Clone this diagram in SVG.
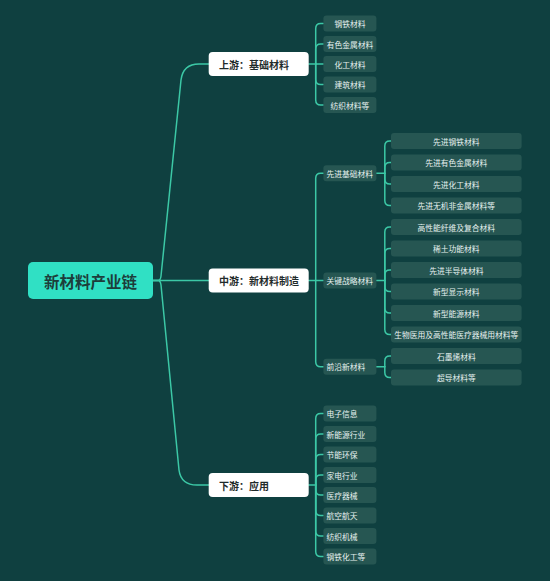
<svg xmlns="http://www.w3.org/2000/svg" width="550" height="581" viewBox="0 0 550 581">
<style>
.bg{fill:#0f4040}
.ln{fill:none;stroke:#3cc8a6;stroke-width:1.5;stroke-linecap:round}
.root rect{fill:#30e0c4}
.root text{font-family:"Noto Sans CJK SC","Noto Sans",sans-serif;font-size:15.5px;font-weight:bold;fill:#1d3d3b;text-anchor:middle;dominant-baseline:central}
.main rect{fill:#ffffff}
.main text{font-family:"Noto Sans CJK SC","Noto Sans",sans-serif;font-size:10px;font-weight:bold;fill:#1f2b2b;dominant-baseline:central}
.leaf rect{fill:#265652}
.leaf text{font-family:"Noto Sans CJK SC","Noto Sans",sans-serif;font-size:7.75px;fill:#e6f2f0;dominant-baseline:central}
.c text{text-anchor:middle}
</style>
<rect class="bg" x="0" y="0" width="550" height="581"/>
<g id="connectors">
  <path class="ln" d="M153,280.5 H209"/>
  <path class="ln" d="M153,280.5 H158 Q160.5,280.5 161,276 L181,80 Q183,64 199,64 H209"/>
  <path class="ln" d="M153,280.5 H158 Q160.5,280.5 161,285 L179,470 Q181,485 197,485 H209"/>
  <!-- upstream -->
  <path class="ln" d="M308.7,64 H315.7"/>
  <path class="ln" d="M315.7,64 V28.5 Q315.7,23.5 320.7,23.5 H323.4"/>
  <path class="ln" d="M315.7,64 V49 Q315.7,44 320.7,44 H323.4"/>
  <path class="ln" d="M315.7,64 H323.4"/>
  <path class="ln" d="M315.7,64 V79.5 Q315.7,84.5 320.7,84.5 H323.4"/>
  <path class="ln" d="M315.7,64 V100 Q315.7,105 320.7,105 H323.4"/>
  <!-- midstream -->
  <path class="ln" d="M308.7,280.5 H315.7"/>
  <path class="ln" d="M315.7,280.5 V178.25 Q315.7,173.25 320.7,173.25 H323.4"/>
  <path class="ln" d="M315.7,280.5 H323.4"/>
  <path class="ln" d="M315.7,280.5 V361.75 Q315.7,366.75 320.7,366.75 H323.4"/>
  <path class="ln" d="M376.4,173.25 H384.8"/>
  <path class="ln" d="M384.8,173.25 V146 Q384.8,141 389.8,141 H391"/>
  <path class="ln" d="M384.8,173.25 V167.5 Q384.8,162.5 389.8,162.5 H391"/>
  <path class="ln" d="M384.8,173.25 V179 Q384.8,184 389.8,184 H391"/>
  <path class="ln" d="M384.8,173.25 V200.5 Q384.8,205.5 389.8,205.5 H391"/>
  <path class="ln" d="M376.4,280.5 H384.8"/>
  <path class="ln" d="M384.8,280.5 V232 Q384.8,227 389.8,227 H391"/>
  <path class="ln" d="M384.8,280.5 V253.5 Q384.8,248.5 389.8,248.5 H391"/>
  <path class="ln" d="M384.8,280.5 V275 Q384.8,270 389.8,270 H391"/>
  <path class="ln" d="M384.8,280.5 V286.5 Q384.8,291.5 389.8,291.5 H391"/>
  <path class="ln" d="M384.8,280.5 V308 Q384.8,313 389.8,313 H391"/>
  <path class="ln" d="M384.8,280.5 V329.5 Q384.8,334.5 389.8,334.5 H391"/>
  <path class="ln" d="M376.4,366.75 H384.8"/>
  <path class="ln" d="M384.8,366.75 V361 Q384.8,356 389.8,356 H391"/>
  <path class="ln" d="M384.8,366.75 V372.5 Q384.8,377.5 389.8,377.5 H391"/>
  <!-- downstream -->
  <path class="ln" d="M308.7,485 H315.7"/>
  <path class="ln" d="M315.7,485 V418.5 Q315.7,413.5 320.7,413.5 H323.4"/>
  <path class="ln" d="M315.7,485 V439 Q315.7,434 320.7,434 H323.4"/>
  <path class="ln" d="M315.7,485 V459.5 Q315.7,454.5 320.7,454.5 H323.4"/>
  <path class="ln" d="M315.7,485 V480 Q315.7,475 320.7,475 H323.4"/>
  <path class="ln" d="M315.7,485 V490 Q315.7,495 320.7,495 H323.4"/>
  <path class="ln" d="M315.7,485 V510.5 Q315.7,515.5 320.7,515.5 H323.4"/>
  <path class="ln" d="M315.7,485 V531 Q315.7,536 320.7,536 H323.4"/>
  <path class="ln" d="M315.7,485 V551.5 Q315.7,556.5 320.7,556.5 H323.4"/>
</g>
<g id="root" class="root"><rect x="28" y="262" width="125" height="37" rx="5"/><text x="90.5" y="280.5">新材料产业链</text></g>
<g id="upstream" class="main"><rect x="208.7" y="52" width="100" height="24" rx="4"/><text x="219" y="64">上游：基础材料</text></g>
<g id="midstream" class="main"><rect x="208.7" y="268.5" width="100" height="24" rx="4"/><text x="219" y="280.5">中游：新材料制造</text></g>
<g id="downstream" class="main"><rect x="208.7" y="473" width="100" height="24" rx="4"/><text x="219" y="485">下游：应用</text></g>
<g class="leaf c">
  <g id="u1"><rect x="323.4" y="15.5" width="53" height="16" rx="3"/><text x="349.9" y="23.5">钢铁材料</text></g>
  <g id="u2"><rect x="323.4" y="36" width="53" height="16" rx="3"/><text x="349.9" y="44">有色金属材料</text></g>
  <g id="u3"><rect x="323.4" y="56" width="53" height="16" rx="3"/><text x="349.9" y="64">化工材料</text></g>
  <g id="u4"><rect x="323.4" y="76.5" width="53" height="16" rx="3"/><text x="349.9" y="84.5">建筑材料</text></g>
  <g id="u5"><rect x="323.4" y="97" width="53" height="16" rx="3"/><text x="349.9" y="105">纺织材料等</text></g>
</g>
<g class="leaf">
  <g id="m1"><rect x="323.4" y="165.25" width="53" height="16" rx="3"/><text x="326.5" y="173.25">先进基础材料</text></g>
  <g id="m2"><rect x="323.4" y="272.5" width="53" height="16" rx="3"/><text x="326.5" y="280.5">关键战略材料</text></g>
  <g id="m3"><rect x="323.4" y="358.75" width="53" height="16" rx="3"/><text x="326.5" y="366.75">前沿新材料</text></g>
</g>
<g class="leaf c">
  <g id="a1"><rect x="391" y="133" width="130.6" height="16" rx="3"/><text x="456.3" y="141">先进钢铁材料</text></g>
  <g id="a2"><rect x="391" y="154.5" width="130.6" height="16" rx="3"/><text x="456.3" y="162.5">先进有色金属材料</text></g>
  <g id="a3"><rect x="391" y="176" width="130.6" height="16" rx="3"/><text x="456.3" y="184">先进化工材料</text></g>
  <g id="a4"><rect x="391" y="197.5" width="130.6" height="16" rx="3"/><text x="456.3" y="205.5">先进无机非金属材料等</text></g>
  <g id="k1"><rect x="391" y="219" width="130.6" height="16" rx="3"/><text x="456.3" y="227">高性能纤维及复合材料</text></g>
  <g id="k2"><rect x="391" y="240.5" width="130.6" height="16" rx="3"/><text x="456.3" y="248.5">稀土功能材料</text></g>
  <g id="k3"><rect x="391" y="262" width="130.6" height="16" rx="3"/><text x="456.3" y="270">先进半导体材料</text></g>
  <g id="k4"><rect x="391" y="283.5" width="130.6" height="16" rx="3"/><text x="456.3" y="291.5">新型显示材料</text></g>
  <g id="k5"><rect x="391" y="305" width="130.6" height="16" rx="3"/><text x="456.3" y="313">新型能源材料</text></g>
  <g id="k6"><rect x="391" y="326.5" width="130.6" height="16" rx="3"/><text x="456.3" y="334.5">生物医用及高性能医疗器械用材料等</text></g>
  <g id="f1"><rect x="391" y="348" width="130.6" height="16" rx="3"/><text x="456.3" y="356">石墨烯材料</text></g>
  <g id="f2"><rect x="391" y="369.5" width="130.6" height="16" rx="3"/><text x="456.3" y="377.5">超导材料等</text></g>
</g>
<g class="leaf">
  <g id="d1"><rect x="323.4" y="405.5" width="53" height="16" rx="3"/><text x="326.5" y="413.5">电子信息</text></g>
  <g id="d2"><rect x="323.4" y="426" width="53" height="16" rx="3"/><text x="326.5" y="434">新能源行业</text></g>
  <g id="d3"><rect x="323.4" y="446.5" width="53" height="16" rx="3"/><text x="326.5" y="454.5">节能环保</text></g>
  <g id="d4"><rect x="323.4" y="467" width="53" height="16" rx="3"/><text x="326.5" y="475">家电行业</text></g>
  <g id="d5"><rect x="323.4" y="487" width="53" height="16" rx="3"/><text x="326.5" y="495">医疗器械</text></g>
  <g id="d6"><rect x="323.4" y="507.5" width="53" height="16" rx="3"/><text x="326.5" y="515.5">航空航天</text></g>
  <g id="d7"><rect x="323.4" y="528" width="53" height="16" rx="3"/><text x="326.5" y="536">纺织机械</text></g>
  <g id="d8"><rect x="323.4" y="548.5" width="53" height="16" rx="3"/><text x="326.5" y="556.5">钢铁化工等</text></g>
</g>
</svg>
